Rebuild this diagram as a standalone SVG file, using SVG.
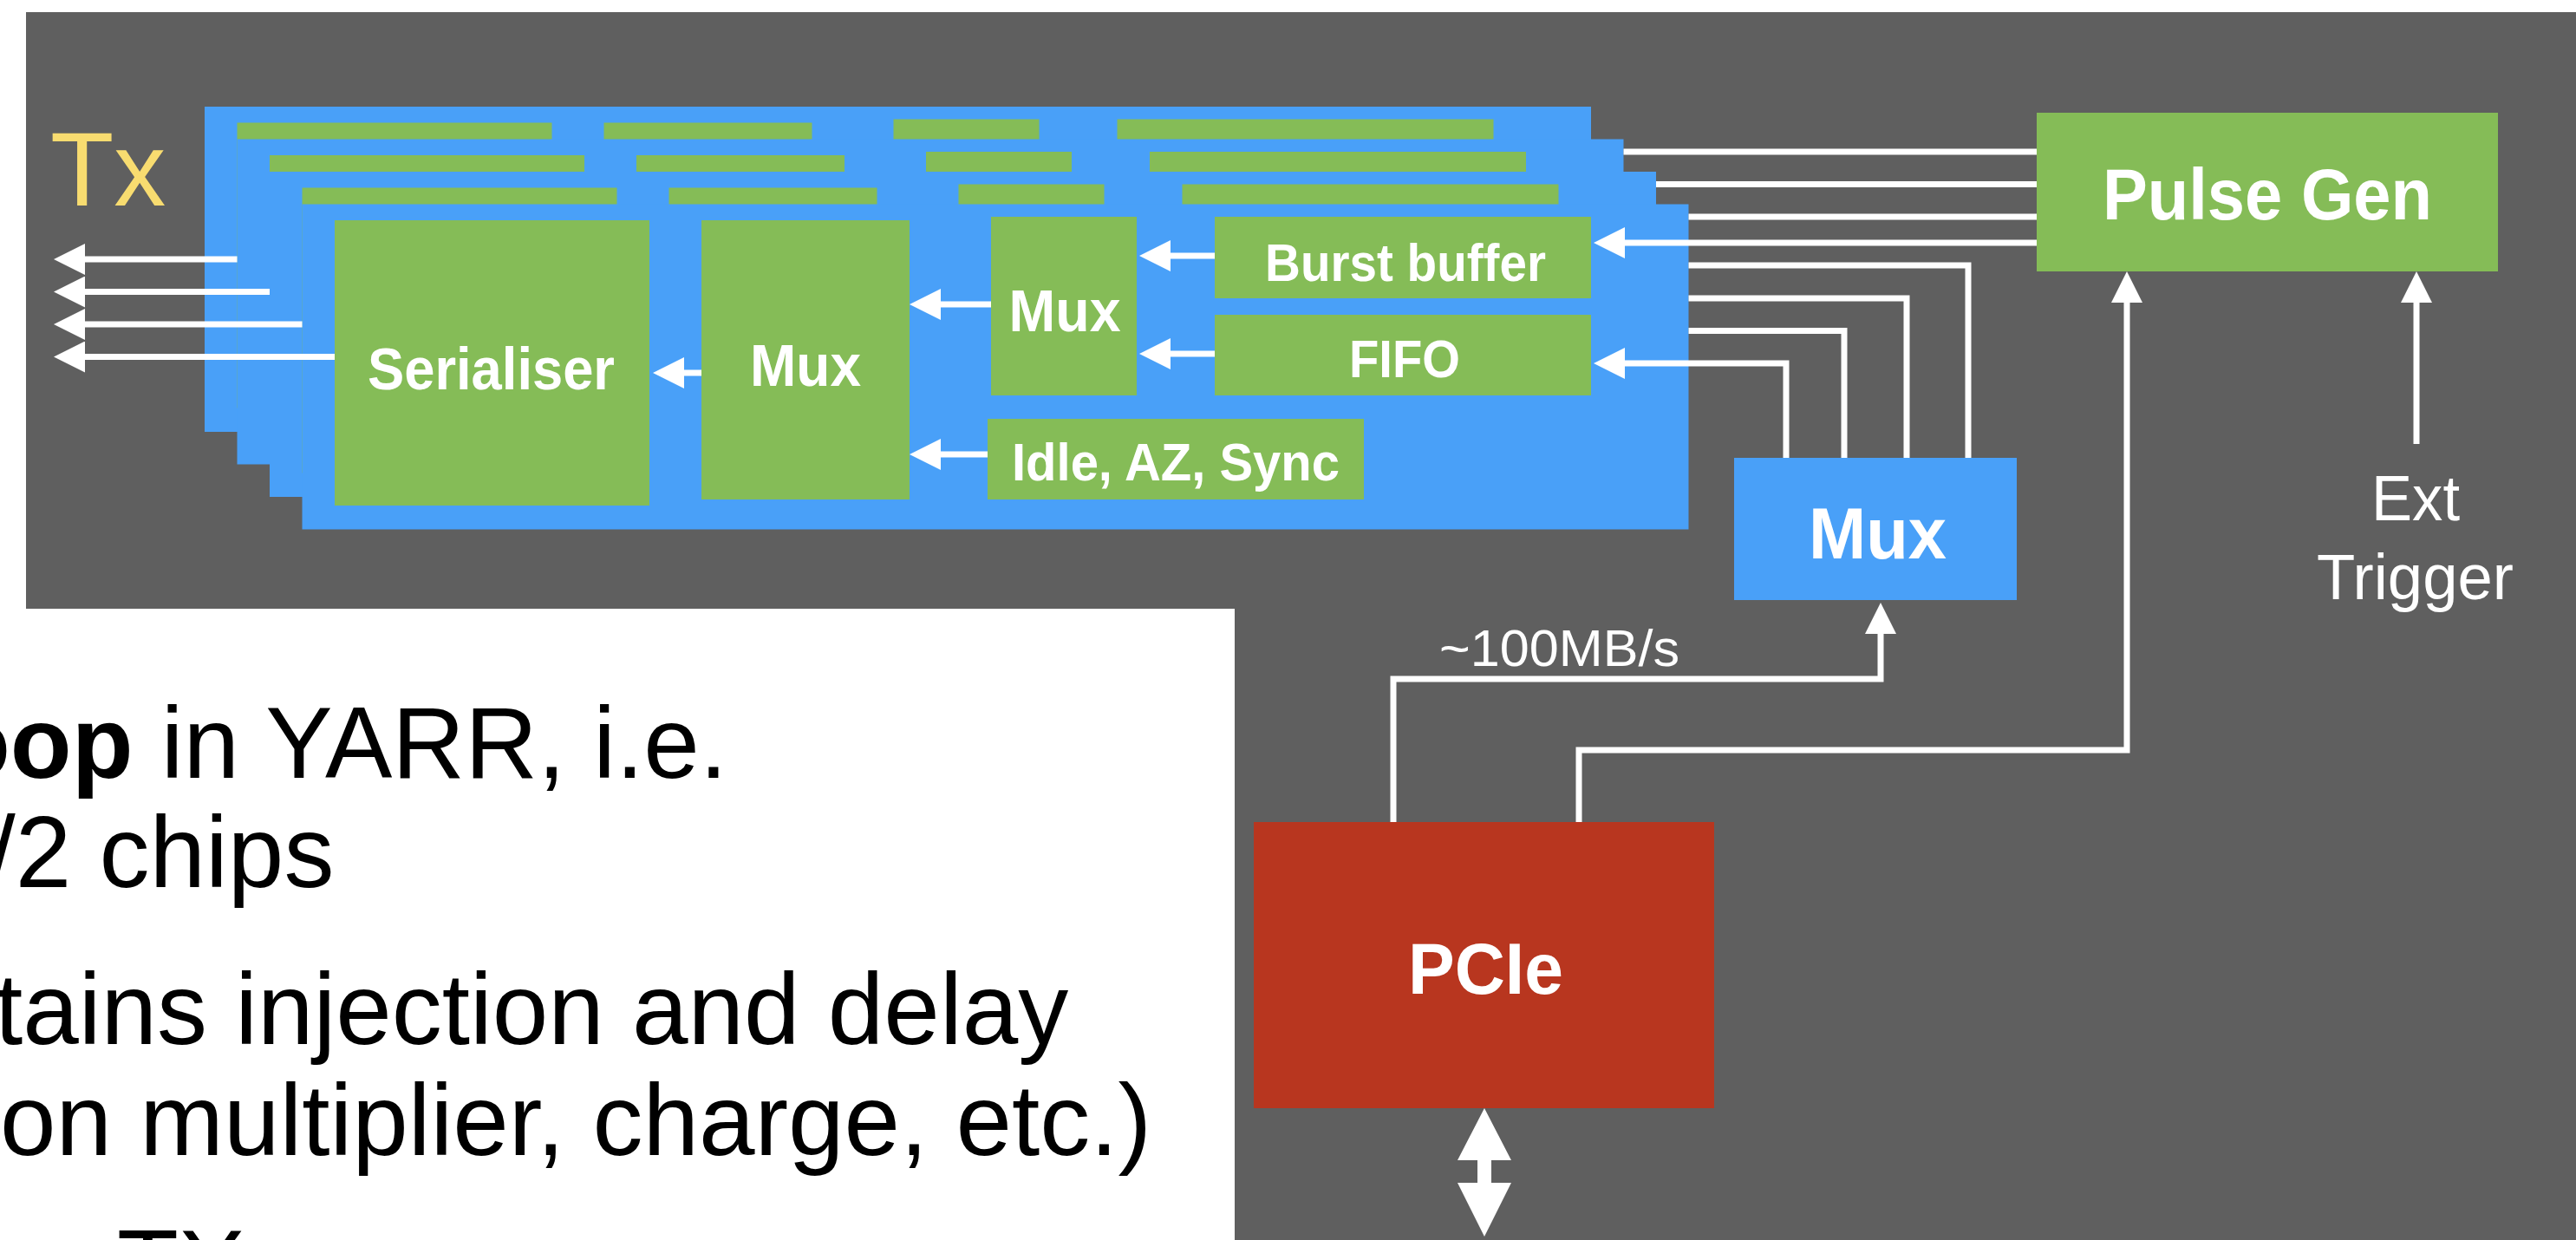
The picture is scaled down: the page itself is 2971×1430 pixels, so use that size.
<svg xmlns="http://www.w3.org/2000/svg" width="2971" height="1430" viewBox="0 0 2971 1430">
  <style>
    .bg-white { fill: #ffffff; }
    .bg-gray { fill: #5f5f5f; }
    .blue { fill: #49a0f8; }
    .green { fill: #85bc57; }
    .red { fill: #b8361f; }
    .lbl { font-family: "Liberation Sans", Arial, Helvetica, sans-serif; font-weight: bold; fill: #ffffff; text-anchor: middle; }
    .lbl-reg { font-family: "Liberation Sans", Arial, Helvetica, sans-serif; font-weight: normal; fill: #ffffff; text-anchor: middle; }
    .tx { font-family: "Liberation Sans", Arial, Helvetica, sans-serif; fill: #f8dc70; font-size: 120px; }
    .body { font-family: "Liberation Sans", Arial, Helvetica, sans-serif; fill: #000000; font-size: 116px; }
    .wire { fill: none; stroke: #ffffff; stroke-width: 7; stroke-linejoin: miter; stroke-linecap: butt; }
    .arrow { marker-end: url(#ah); }
  </style>
  <defs>
    <marker id="ah" markerUnits="userSpaceOnUse" viewBox="0 0 36 36" markerWidth="36" markerHeight="36" refX="18" refY="18" orient="auto">
      <path d="M0,0 L36,18 L0,36 Z" fill="#ffffff"/>
    </marker>
    <g id="layer-shapes">
      <rect class="blue" x="0" y="0" width="1599" height="375"/>
      <rect class="green" x="37.5" y="18.5" width="363" height="329"/>
      <rect class="green" x="460.5" y="18.5" width="240" height="322"/>
      <rect class="green" x="794.5" y="14.5" width="168" height="206"/>
      <rect class="green" x="1052.5" y="14.5" width="434" height="94"/>
      <rect class="green" x="1052.5" y="127.5" width="434" height="93"/>
      <rect class="green" x="790.5" y="247.5" width="434" height="93"/>
    </g>
  </defs>

  <!-- background -->
  <rect class="bg-white" x="0" y="0" width="2971" height="1430"/>
  <path class="bg-gray" d="M30,14 H2971 V1430 H1424 V702 H30 Z"/>

  <!-- body text on white area -->
  <g id="body-text" class="body">
    <text x="-59" y="897"><tspan font-weight="bold">oop</tspan> in YARR, i.e.</text>
    <text x="-14.4" y="1023">/2 chips</text>
    <text x="-6" y="1204">tains injection and delay</text>
    <text x="0" y="1332">on multiplier, charge, etc.)</text>
    <text x="135" y="1500">TX</text>
  </g>

  <!-- Tx label -->
  <g id="tx-label">
    <text class="tx" x="58" y="237">Tx</text>
  </g>

  <!-- stacked Tx layers (back to front) -->
  <g id="tx-layer-1"><use href="#layer-shapes" x="236" y="123"/></g>
  <g id="tx-layer-2"><use href="#layer-shapes" x="273.5" y="160.5"/></g>
  <g id="tx-layer-3"><use href="#layer-shapes" x="311" y="198"/></g>
  <g id="tx-layer-4">
    <rect class="blue" x="348.5" y="235.5" width="1599" height="375"/>
    <g id="serialiser">
      <rect class="green" x="386" y="254" width="363" height="329"/>
      <text class="lbl" x="566.5" y="449" font-size="68" textLength="285" lengthAdjust="spacingAndGlyphs">Serialiser</text>
    </g>
    <g id="mux-main">
      <rect class="green" x="809" y="254" width="240" height="322"/>
      <text class="lbl" x="929" y="445" font-size="68" textLength="128" lengthAdjust="spacingAndGlyphs">Mux</text>
    </g>
    <g id="mux-small">
      <rect class="green" x="1143" y="250" width="168" height="206"/>
      <text class="lbl" x="1228" y="382" font-size="68" textLength="129" lengthAdjust="spacingAndGlyphs">Mux</text>
    </g>
    <g id="burst-buffer">
      <rect class="green" x="1401" y="250" width="434" height="94"/>
      <text class="lbl" x="1621" y="324" font-size="61" textLength="324" lengthAdjust="spacingAndGlyphs">Burst buffer</text>
    </g>
    <g id="fifo">
      <rect class="green" x="1401" y="363" width="434" height="93"/>
      <text class="lbl" x="1620" y="435" font-size="61" textLength="128" lengthAdjust="spacingAndGlyphs">FIFO</text>
    </g>
    <g id="idle-az-sync">
      <rect class="green" x="1139" y="483" width="434" height="93"/>
      <text class="lbl" x="1356" y="554" font-size="62" textLength="378" lengthAdjust="spacingAndGlyphs">Idle, AZ, Sync</text>
    </g>
  </g>

  <!-- Pulse Gen -->
  <g id="pulse-gen">
    <rect class="green" x="2349" y="130" width="532" height="183"/>
    <text class="lbl" x="2615" y="253" font-size="83" textLength="380" lengthAdjust="spacingAndGlyphs">Pulse Gen</text>
  </g>

  <!-- Mux (right) -->
  <g id="mux-right">
    <rect class="blue" x="2000" y="528" width="326" height="164"/>
    <text class="lbl" x="2165.5" y="644" font-size="83" textLength="159" lengthAdjust="spacingAndGlyphs">Mux</text>
  </g>

  <!-- PCIe -->
  <g id="pcie">
    <rect class="red" x="1446" y="948" width="531" height="330"/>
    <text class="lbl" x="1713.5" y="1146" font-size="83" textLength="179" lengthAdjust="spacingAndGlyphs">PCIe</text>
  </g>

  <!-- Ext Trigger label -->
  <g id="ext-trigger">
    <text class="lbl-reg" x="2786" y="600" font-size="74" textLength="102" lengthAdjust="spacingAndGlyphs">Ext</text>
    <text class="lbl-reg" x="2785.5" y="691" font-size="74" textLength="227" lengthAdjust="spacingAndGlyphs">Trigger</text>
  </g>

  <!-- connectors -->
  <g id="connectors">
    <!-- Tx outputs -->
    <path class="wire arrow" d="M273.5,299 H80"/>
    <path class="wire arrow" d="M311,336.5 H80"/>
    <path class="wire arrow" d="M348.5,374 H80"/>
    <path class="wire arrow" d="M386,411.5 H80"/>
    <!-- internal of front layer -->
    <path class="wire arrow" d="M809,430 H771"/>
    <path class="wire arrow" d="M1143,351 H1067"/>
    <path class="wire arrow" d="M1139,524 H1067"/>
    <path class="wire arrow" d="M1401,295 H1332"/>
    <path class="wire arrow" d="M1401,408 H1332"/>
    <!-- Pulse Gen to burst buffers -->
    <path class="wire" d="M2349,175 H1872.5"/>
    <path class="wire" d="M2349,212.5 H1910"/>
    <path class="wire" d="M2349,250 H1947.5"/>
    <path class="wire arrow" d="M2349,280 H1856"/>
    <!-- Mux to FIFOs -->
    <path class="wire" d="M2270,528 V306 H1947.5"/>
    <path class="wire" d="M2199,528 V344 H1947.5"/>
    <path class="wire" d="M2127,528 V381.5 H1947.5"/>
    <path class="wire arrow" d="M2060,528 V419 H1856"/>
    <!-- PCIe to Mux -->
    <path class="wire arrow" d="M1607,948 V783 H2169 V713"/>
    <!-- PCIe to Pulse Gen -->
    <path class="wire arrow" d="M1821,948 V865 H2453 V331"/>
    <!-- Ext trigger to Pulse Gen -->
    <path class="wire arrow" d="M2787,512 V331"/>
    <!-- PCIe bidirectional -->
    <polygon fill="#ffffff" points="1712,1278 1743,1338 1720,1338 1720,1364 1743,1364 1712,1426 1681,1364 1704,1364 1704,1338 1681,1338"/>
    <text class="lbl-reg" x="1798.5" y="768" font-size="60" textLength="277" lengthAdjust="spacingAndGlyphs">~100MB/s</text>
  </g>
</svg>
